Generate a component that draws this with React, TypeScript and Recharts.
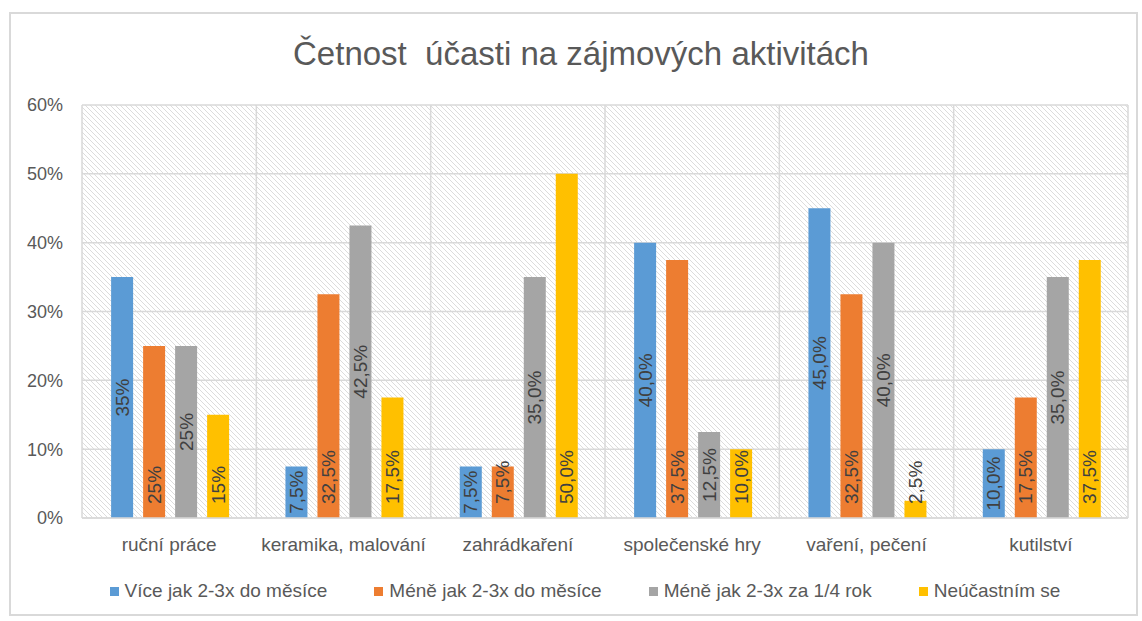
import React from "react";
import { BarChart, Bar, XAxis, YAxis, CartesianGrid, LabelList } from "recharts";

const categories = [
  "ruční práce",
  "keramika, malování",
  "zahrádkaření",
  "společenské hry",
  "vaření, pečení",
  "kutilství",
];
// first category is labelled without decimals in the original
const labelDecimals = [0, 1, 1, 1, 1, 1];

const seriesNames = [
  "Více jak 2-3x do měsíce",
  "Méně jak 2-3x do měsíce",
  "Méně jak 2-3x za 1/4 rok",
  "Neúčastním se",
];
const moreThanMonthly = [0.35, 0.075, 0.075, 0.4, 0.45, 0.1];
const lessThanMonthly = [0.25, 0.325, 0.075, 0.375, 0.325, 0.175];
const lessThanQuarterly = [0.25, 0.425, 0.35, 0.125, 0.4, 0.35];
const notParticipating = [0.15, 0.175, 0.5, 0.1, 0.025, 0.375];

const yTicks = [0, 0.1, 0.2, 0.3, 0.4, 0.5, 0.6];

const COLORS = ["#5B9BD5", "#ED7D31", "#A5A5A5", "#FFC000"];
const LABEL_MODES: ("center" | "base")[] = ["center", "base", "center", "base"];
const FONT = "'Liberation Sans', Arial, sans-serif";

const seriesValues = [moreThanMonthly, lessThanMonthly, lessThanQuarterly, notParticipating];

const fmt = (v: number, d: number) => (v * 100).toFixed(d).replace(".", ",") + "%";

const data = categories.map((name, i) => {
  const row: Record<string, string | number> = { name };
  seriesValues.forEach((vals, s) => {
    row[`s${s}`] = vals[i];
    row[`l${s}`] = fmt(vals[i], labelDecimals[i]);
  });
  return row;
});

const makeLabel = (mode: "center" | "base") => (props: any) => {
  const vb = props.viewBox ?? props;
  const x = vb.x ?? props.x;
  const y = vb.y ?? props.y;
  const width = vb.width ?? props.width;
  const height = vb.height ?? props.height;
  const cx = x + width / 2;
  const cy = mode === "center" ? y + height / 2 : y + height - 14;
  return (
    <text
      x={cx}
      y={cy}
      transform={`rotate(-90 ${cx} ${cy})`}
      textAnchor={mode === "center" ? "middle" : "start"}
      dominantBaseline="central"
      fontSize={19}
      fontFamily={FONT}
      fill="#404040"
    >
      {props.value}
    </text>
  );
};

export default function App() {
  return (
    <div
      style={{
        position: "absolute",
        left: 0,
        top: 0,
        width: 1142,
        height: 621,
        background: "#fff",
        fontFamily: FONT,
      }}
    >
      <svg width={0} height={0} style={{ position: "absolute" }}>
        <defs>
          <pattern id="hatch" patternUnits="userSpaceOnUse" width={5} height={5}>
            <path d="M-1,4 l2,2 M0,0 l5,5 M4,-1 l2,2" stroke="#dcdcdc" strokeWidth={1} />
          </pattern>
        </defs>
      </svg>
      <div
        style={{
          position: "absolute",
          left: 9,
          top: 12,
          width: 1129,
          height: 604,
          border: "2px solid #D9D9D9",
          boxSizing: "border-box",
        }}
      />
      <div
        style={{
          position: "absolute",
          left: 0,
          top: 35,
          width: 1162,
          textAlign: "center",
          fontSize: 33,
          lineHeight: "38px",
          color: "#595959",
          whiteSpace: "pre",
        }}
      >
        {"Četnost  účasti na zájmových aktivitách"}
      </div>
      <div style={{ position: "absolute", left: 0, top: 0 }}>
        <BarChart
          width={1142}
          height={621}
          data={data}
          margin={{ top: 105, right: 14, bottom: 73, left: 22 }}
          barCategoryGap="16.7%"
          barGap={10}
        >
          <CartesianGrid
            stroke="#D9D9D9"
            strokeWidth={1.5}
            fill="url(#hatch)"
            fillOpacity={1}
            verticalCoordinatesGenerator={({ offset }: any) =>
              categories.map((_, i) => offset.left + (i * offset.width) / categories.length).concat(offset.left + offset.width)
            }
          />
          <XAxis
            dataKey="name"
            axisLine={{ stroke: "#D9D9D9", strokeWidth: 1.5 }}
            tickLine={false}
            tickMargin={14}
            height={30}
            tick={{ fill: "#595959", fontSize: 19, fontFamily: FONT }}
            interval={0}
          />
          <YAxis
            domain={[0, 0.6]}
            ticks={yTicks}
            axisLine={false}
            tickLine={false}
            tickMargin={13}
            width={60}
            tick={{ fill: "#595959", fontSize: 18, fontFamily: FONT }}
            tickFormatter={(v: number) => Math.round(v * 100) + "%"}
          />
          {seriesNames.map((n, s) => (
            <Bar key={n} dataKey={`s${s}`} name={n} fill={COLORS[s]} isAnimationActive={false}>
              <LabelList dataKey={`l${s}`} content={makeLabel(LABEL_MODES[s])} />
            </Bar>
          ))}
        </BarChart>
      </div>
      <div
        style={{
          position: "absolute",
          left: 14,
          top: 580,
          width: 1142,
          display: "flex",
          justifyContent: "center",
          gap: 47,
          fontSize: 19,
          color: "#595959",
        }}
      >
        {seriesNames.map((n, s) => (
          <div key={n} style={{ display: "flex", alignItems: "center" }}>
            <span style={{ width: 9, height: 9, background: COLORS[s], marginRight: 6 }} />
            <span>{n}</span>
          </div>
        ))}
      </div>
    </div>
  );
}
